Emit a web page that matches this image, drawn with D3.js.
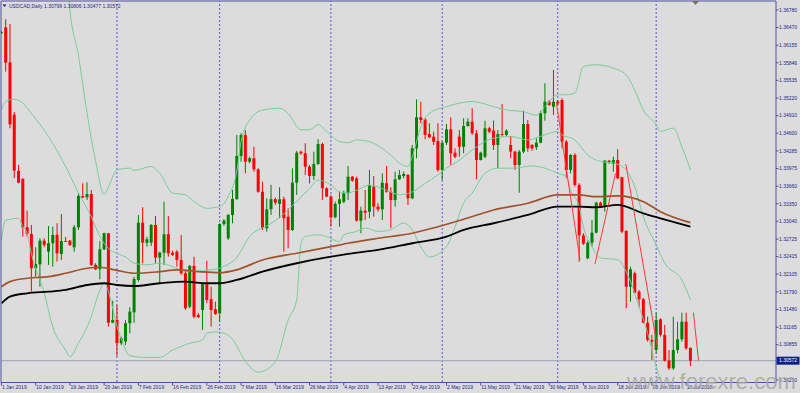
<!DOCTYPE html>
<html>
<head>
<meta charset="utf-8">
<script src="https://cdn.jsdelivr.net/npm/d3@7"></script>
<style>
body { margin: 0; background: #dcdcdc; }
svg { display: block; font-family: "Liberation Sans", Arial, sans-serif; }
</style>
</head>
<body>
<div id="chart"></div>
<script>
// daily bars: open, high, low, close
const ohlc = [
  [1.36373,1.36408,1.36355,1.36391],[1.36474,1.36615,1.35688,1.35847],[1.35854,1.36532,1.34686,1.34757],
  [1.34927,1.34975,1.33806,1.33936],[1.33930,1.34037,1.33713,1.33723],[1.33789,1.33806,1.32767,1.32934],
  [1.32934,1.33228,1.32767,1.32815],[1.32815,1.32975,1.31794,1.32208],[1.32208,1.32580,1.32059,1.32284],
  [1.32279,1.32739,1.31882,1.32697],[1.32697,1.32739,1.32580,1.32621],[1.32502,1.32957,1.32267,1.32651],
  [1.32651,1.32945,1.32236,1.32798],[1.32798,1.33005,1.32325,1.32474],[1.32461,1.33169,1.32355,1.32691],
  [1.32691,1.32762,1.32674,1.32682],[1.32697,1.32709,1.32603,1.32621],[1.32580,1.32975,1.32502,1.32934],
  [1.32934,1.33536,1.32886,1.33488],[1.33488,1.33713,1.33447,1.33458],[1.33465,1.33730,1.33417,1.33523],
  [1.33523,1.33594,1.32249,1.32267],[1.32267,1.32297,1.32178,1.32190],[1.32190,1.32691,1.32013,1.32544],
  [1.32544,1.32838,1.32532,1.32828],[1.32828,1.32833,1.31174,1.31245],[1.31245,1.31635,1.31235,1.31293],
  [1.31293,1.31559,1.30656,1.30881],[1.30881,1.30997,1.30851,1.30969],[1.30909,1.31293,1.30851,1.31235],
  [1.31235,1.31518,1.31058,1.31440],[1.31429,1.32059,1.31245,1.32019],[1.32001,1.33152,1.31971,1.33015],
  [1.33015,1.33288,1.32297,1.32661],[1.32661,1.32767,1.32590,1.32721],[1.32661,1.32992,1.32603,1.32975],
  [1.32975,1.33134,1.32297,1.32396],[1.32396,1.32502,1.31943,1.32484],[1.32484,1.33387,1.32267,1.32810],
  [1.32810,1.33134,1.32413,1.32474],[1.32484,1.32520,1.32426,1.32444],[1.32502,1.32532,1.32236,1.32355],
  [1.32355,1.32798,1.32090,1.32120],[1.32120,1.32178,1.31470,1.31500],[1.31528,1.32267,1.31500,1.32249],
  [1.32249,1.32413,1.31323,1.31351],[1.31382,1.31417,1.31328,1.31341],[1.31470,1.31948,1.31116,1.31925],
  [1.31925,1.32343,1.31589,1.31647],[1.31659,1.31882,1.31174,1.31470],[1.31482,1.31617,1.31382,1.31399],
  [1.31412,1.33005,1.31263,1.32992],[1.32992,1.33081,1.32957,1.33051],[1.32739,1.33169,1.32709,1.33152],
  [1.33152,1.33594,1.33005,1.33435],[1.33435,1.34568,1.33417,1.34196],[1.34196,1.34598,1.34095,1.34568],
  [1.34568,1.34656,1.33890,1.34095],[1.34095,1.34183,1.34067,1.34155],[1.34155,1.34360,1.33918,1.33960],
  [1.33960,1.33978,1.33546,1.33564],[1.33564,1.33741,1.32886,1.32916],[1.32916,1.33447,1.32856,1.33252],
  [1.33252,1.33683,1.33152,1.33430],[1.33430,1.33458,1.33329,1.33369],[1.33349,1.33642,1.33093,1.33430],
  [1.33430,1.33476,1.32502,1.33093],[1.33121,1.33270,1.32562,1.32886],[1.32886,1.33978,1.32869,1.33723],
  [1.33723,1.34284,1.33506,1.34254],[1.34272,1.34290,1.34214,1.34244],[1.34244,1.34421,1.33860,1.34007],
  [1.34007,1.34037,1.33713,1.33842],[1.33842,1.34272,1.33771,1.34054],[1.34054,1.34491,1.34037,1.34408],
  [1.34408,1.34431,1.33417,1.33624],[1.33624,1.33642,1.33465,1.33476],[1.33476,1.33506,1.32945,1.33111],
  [1.33111,1.33387,1.33093,1.33349],[1.33349,1.33564,1.32945,1.33430],[1.33387,1.33582,1.33359,1.33536],
  [1.33536,1.34019,1.33417,1.33829],[1.33829,1.33842,1.33741,1.33759],[1.33801,1.33829,1.33033,1.33051],
  [1.33051,1.33298,1.32828,1.33228],[1.33228,1.33594,1.33063,1.33192],[1.33210,1.33948,1.33093,1.33683],
  [1.33652,1.33842,1.33121,1.33298],[1.33298,1.33359,1.33210,1.33252],[1.33252,1.33890,1.33063,1.33723],
  [1.33713,1.34019,1.33546,1.33564],[1.33564,1.33642,1.32916,1.33417],[1.33417,1.33918,1.33298,1.33783],
  [1.33783,1.33948,1.33771,1.33860],[1.33842,1.33918,1.33801,1.33877],[1.33860,1.33877,1.33329,1.33447],
  [1.33447,1.34391,1.33430,1.34332],[1.34332,1.35199,1.34155,1.34881],[1.34881,1.35157,1.34775,1.34833],
  [1.34845,1.34863,1.34491,1.34568],[1.34585,1.34775,1.34509,1.34527],[1.34537,1.34626,1.34391,1.34449],
  [1.34461,1.34775,1.33918,1.33948],[1.33948,1.34453,1.33771,1.34431],[1.34431,1.34762,1.34391,1.34668],
  [1.34668,1.34881,1.34037,1.34244],[1.34254,1.34332,1.34155,1.34183],[1.34537,1.34656,1.34183,1.34360],
  [1.34360,1.34863,1.34244,1.34727],[1.34727,1.34863,1.34714,1.34803],[1.34803,1.35040,1.34568,1.34598],
  [1.34598,1.34656,1.33783,1.34125],[1.34125,1.34272,1.34116,1.34254],[1.34183,1.34821,1.34155,1.34686],
  [1.34686,1.34714,1.34598,1.34626],[1.34644,1.34821,1.34302,1.34391],[1.34391,1.34656,1.33978,1.34585],
  [1.34585,1.35116,1.34537,1.34568],[1.34568,1.34668,1.34550,1.34644],[1.34391,1.34550,1.34155,1.34272],
  [1.34272,1.34290,1.33948,1.34037],[1.34037,1.34302,1.33546,1.34272],[1.34272,1.34998,1.34244,1.34762],
  [1.34762,1.34833,1.34272,1.34332],[1.34391,1.34408,1.34290,1.34332],[1.34350,1.34509,1.34302,1.34431],
  [1.34431,1.34998,1.34421,1.34952],[1.34952,1.35483,1.34821,1.35157],[1.35157,1.35187,1.35081,1.35099],
  [1.35068,1.35718,1.34922,1.35157],[1.35157,1.35187,1.35099,1.35129],[1.35187,1.35217,1.34332,1.34449],
  [1.34449,1.34479,1.33801,1.33948],[1.33948,1.34231,1.33890,1.34214],[1.34214,1.34244,1.33652,1.33683],
  [1.33683,1.33713,1.32325,1.32789],[1.32789,1.32828,1.32621,1.32644],[1.32385,1.32697,1.32367,1.32661],
  [1.32661,1.33063,1.32590,1.32838],[1.32838,1.33387,1.32828,1.33369],[1.33369,1.33387,1.33288,1.33311],
  [1.33298,1.34125,1.33210,1.34113],[1.34113,1.34125,1.34054,1.34078],[1.34054,1.34183,1.33918,1.34125],
  [1.34125,1.34314,1.33783,1.33801],[1.33819,1.33829,1.32828,1.32856],[1.32868,1.32886,1.31500,1.31882],
  [1.31882,1.32236,1.31617,1.32190],[1.32120,1.32148,1.31766,1.31776],[1.31794,1.31824,1.31528,1.31659],
  [1.31659,1.31683,1.31235,1.31245],[1.31245,1.31351,1.30909,1.30939],[1.30939,1.31028,1.30585,1.30909],
  [1.30762,1.31422,1.30704,1.31293],[1.31305,1.31323,1.30997,1.31028],[1.31028,1.31205,1.30555,1.30573],
  [1.30573,1.30762,1.30408,1.30438],[1.30438,1.31351,1.30408,1.30762],[1.30762,1.31263,1.30704,1.30951],
  [1.30951,1.31422,1.30909,1.31263],[1.31263,1.31422,1.30762,1.30792],[1.30799,1.30806,1.30477,1.30572]
];

const dateLabels = ["1 Jan 2019","10 Jan 2019","19 Jan 2019","29 Jan 2019","7 Feb 2019","16 Feb 2019",
  "26 Feb 2019","7 Mar 2019","16 Mar 2019","26 Mar 2019","4 Apr 2019","13 Apr 2019","23 Apr 2019",
  "2 May 2019","11 May 2019","21 May 2019","30 May 2019","8 Jun 2019","18 Jun 2019","28 Jun 2019","10 Jul 2019"];
const barsPerLabel = 8;

const priceLabels = [1.36780,1.36470,1.36155,1.35846,1.35535,1.35220,1.34910,1.34600,1.34285,1.33975,
  1.33660,1.33350,1.33040,1.32725,1.32415,1.32105,1.31790,1.31480,1.31165,1.30855,1.30230];
const lastPrice = 1.30572;
const monthStarts = [27, 51, 77, 103, 130, 153];

// indicator lines: [bar, price]
const bbUpper = [[15,1.3767],[16,1.3678],[18,1.3598],[20,1.3496],[22,1.3411],[24,1.3352],[25,1.3365],
  [27,1.3395],[30,1.3398],[31,1.3394],[35,1.3401],[37,1.3389],[40,1.3354],[43,1.3351],[45,1.3339],
  [48,1.3327],[51,1.3330],[53,1.3348],[55,1.3393],[56,1.3445],[58,1.3483],[61,1.3501],[65,1.3504],
  [67,1.3495],[70,1.3466],[72,1.3466],[74,1.3475],[76,1.3463],[79,1.3445],[81,1.3443],[83,1.3448],
  [86,1.3445],[89,1.3433],[91,1.3421],[93,1.3407],[95,1.3401],[96,1.3418],[98,1.3471],[100,1.3495],
  [104,1.3507],[107,1.3513],[110,1.3516],[115,1.3507],[118,1.3501],[122,1.3498],[125,1.3492],
  [127,1.3507],[130,1.3528],[132,1.3528],[134,1.3531],[136,1.3578],[139,1.3581],[143,1.3575],
  [146,1.3563],[148,1.3536],[150,1.3501],[153,1.3475],[154,1.3463],[157,1.3469],[159,1.3436],[161,1.3395]];
const bbMiddle = [[0,1.3501],[1,1.3516],[3,1.3520],[5,1.3513],[7,1.3495],[11,1.3454],[15,1.3401],
  [18,1.3354],[21,1.3312],[23,1.3277],[25,1.3256],[27,1.3247],[29,1.3241],[31,1.3230],[34,1.3227],
  [37,1.3230],[42,1.3218],[44,1.3215],[49,1.3218],[52,1.3224],[55,1.3240],[58,1.3277],[63,1.3300],
  [67,1.3324],[70,1.3347],[72,1.3362],[74,1.3377],[77,1.3368],[79,1.3356],[81,1.3354],[83,1.3359],
  [86,1.3368],[90,1.3359],[93,1.3351],[96,1.3356],[99,1.3371],[102,1.3386],[104,1.3398],[107,1.3412],
  [108,1.3418],[110,1.3430],[115,1.3451],[119,1.3454],[123,1.3448],[127,1.3457],[130,1.3463],
  [131,1.3457],[134,1.3448],[137,1.3421],[140,1.3410],[143,1.3407],[146,1.3395],[148,1.3365],
  [150,1.3312],[153,1.3262],[155,1.3230],[159,1.3200],[161,1.3165]];
const bbLower = [[0,1.3271],[1,1.3306],[4,1.3309],[5,1.3295],[6,1.3283],[7,1.3247],[10,1.3177],
  [12,1.3117],[15,1.3076],[16,1.3064],[18,1.3088],[21,1.3135],[23,1.3182],[24,1.3194],[25,1.3180],
  [26,1.3150],[27,1.3118],[28,1.3096],[30,1.3066],[34,1.3063],[37,1.3063],[40,1.3076],[44,1.3088],
  [47,1.3094],[48,1.3106],[50,1.3108],[52,1.3106],[54,1.3095],[57,1.3056],[60,1.3037],[64,1.3055],
  [67,1.3129],[69,1.3165],[70,1.3265],[71,1.3277],[74,1.3280],[76,1.3277],[79,1.3268],[80,1.3280],
  [83,1.3286],[85,1.3292],[88,1.3286],[91,1.3289],[94,1.3301],[96,1.3289],[98,1.3259],[100,1.3241],
  [104,1.3259],[106,1.3294],[108,1.3336],[110,1.3354],[113,1.3389],[116,1.3398],[120,1.3398],
  [124,1.3402],[127,1.3398],[130,1.3389],[132,1.3383],[133,1.3359],[135,1.3330],[136,1.3294],
  [138,1.3259],[140,1.3239],[144,1.3236],[146,1.3215],[149,1.3153],[151,1.3106],[153,1.3047],
  [154,1.3023],[157,1.2990],[161,1.2975]];
const maBrown = [[0,1.31882],[2,1.31971],[6,1.32031],[11,1.32059],[15,1.32120],[20,1.32208],
  [23,1.32226],[27,1.32170],[31,1.32120],[37,1.32148],[41,1.32178],[46,1.32148],[51,1.32130],
  [55,1.32180],[61,1.32355],[69,1.32474],[77,1.32590],[81,1.32651],[88,1.32739],[96,1.32828],
  [102,1.32944],[108,1.33075],[115,1.33240],[123,1.33359],[130,1.33506],[135,1.33506],[139,1.33475],
  [144,1.33488],[150,1.33387],[154,1.33210],[161,1.33015]];
const maBlack = [[0,1.31589],[2,1.31706],[6,1.31765],[11,1.31794],[15,1.31824],[20,1.31912],
  [24,1.31943],[27,1.31912],[31,1.31894],[37,1.31943],[43,1.31971],[47,1.31943],[51,1.31943],
  [55,1.32001],[61,1.32148],[69,1.32297],[77,1.32413],[81,1.32461],[88,1.32532],[96,1.32651],
  [104,1.32767],[108,1.32886],[115,1.33005],[123,1.33152],[130,1.33298],[135,1.33298],[139,1.33288],
  [144,1.33329],[150,1.33181],[154,1.33093],[161,1.32944]];
const trendLines = [
  [[129.7,1.35129],[135.2,1.32355]],
  [[138.7,1.32284],[143.5,1.33890]],
  [[145.9,1.34054],[153.2,1.30851]],
  [[161.7,1.31422],[162.9,1.30573]]
];

const W = 800, H = 393;
const axisX = 776, plotBottom = 382.5;
const upColor = "#008000", downColor = "#ff0000", frameColor = "#4e4ea0", textColor = "#26268a";

const svg = d3.select("#chart").append("svg").attr("width", W).attr("height", H);
const x = d3.scaleLinear().domain([0, 181]).range([1.42, axisX]);
const y = d3.scaleLinear().domain([1.36957, 1.30124]).range([0, 386]);

svg.append("rect").attr("width", W).attr("height", H).attr("fill", "#dcdcdc");
svg.append("clipPath").attr("id", "plot")
  .append("rect").attr("x", 1).attr("y", 1).attr("width", axisX - 1).attr("height", plotBottom - 1);

const plot = svg.append("g").attr("clip-path", "url(#plot)");

plot.selectAll(".sep").data(monthStarts).join("line")
  .attr("class", "sep")
  .attr("x1", d => x(d)).attr("x2", d => x(d))
  .attr("y1", 0).attr("y2", plotBottom)
  .attr("stroke", "#5a5ac8").attr("stroke-width", 1).attr("stroke-dasharray", "2,2");

plot.append("line")
  .attr("x1", 0).attr("x2", axisX)
  .attr("y1", y(lastPrice)).attr("y2", y(lastPrice))
  .attr("stroke", "#9ca4ae").attr("stroke-width", 1);

const bar = plot.selectAll(".bar").data(ohlc).join("g").attr("class", "bar");
bar.append("line")
  .attr("x1", (d, i) => x(i)).attr("x2", (d, i) => x(i))
  .attr("y1", d => y(d[1])).attr("y2", d => y(d[2]))
  .attr("stroke", d => d[3] >= d[0] ? upColor : downColor)
  .attr("stroke-width", 1);
bar.append("rect")
  .attr("x", (d, i) => x(i) - 1.5)
  .attr("width", 3)
  .attr("y", d => Math.min(y(d[0]), y(d[3])))
  .attr("height", d => Math.max(1, Math.abs(y(d[0]) - y(d[3]))))
  .attr("fill", d => d[3] >= d[0] ? upColor : downColor);

const line = d3.line().x(d => x(d[0])).y(d => y(d[1])).curve(d3.curveMonotoneX);
[bbUpper, bbMiddle, bbLower].forEach(band => {
  plot.append("path").attr("d", line(band))
    .attr("fill", "none").attr("stroke", "#7acb9b").attr("stroke-width", 1);
});
plot.append("path").attr("d", line(maBrown))
  .attr("fill", "none").attr("stroke", "#a0522d").attr("stroke-width", 1.7);
plot.append("path").attr("d", line(maBlack))
  .attr("fill", "none").attr("stroke", "#000").attr("stroke-width", 1.8);

plot.selectAll(".trend").data(trendLines).join("path")
  .attr("class", "trend")
  .attr("d", d3.line().x(d => x(d[0])).y(d => y(d[1])))
  .attr("fill", "none").attr("stroke", "#ff3a3a").attr("stroke-width", 1);

// frame and axes
svg.append("path")
  .attr("d", `M1,1H${axisX}V${plotBottom}H1Z`)
  .attr("fill", "none").attr("stroke", frameColor).attr("stroke-width", 1);

const py = svg.append("g").selectAll("g").data(priceLabels).join("g")
  .attr("transform", d => `translate(${axisX},${y(d)})`);
py.append("line").attr("x1", 0).attr("x2", 2.5).attr("stroke", frameColor);
py.append("text").attr("x", 3).attr("dy", "0.35em")
  .attr("font-size", 5).attr("fill", textColor)
  .text(d => d.toFixed(5));

const cur = svg.append("g").attr("transform", `translate(${axisX},${y(lastPrice)})`);
cur.append("rect").attr("x", 0.5).attr("y", -4).attr("width", 23).attr("height", 8).attr("fill", "#0b1f8c");
cur.append("text").attr("x", 3).attr("dy", "0.35em")
  .attr("font-size", 5).attr("fill", "#fff").text(lastPrice.toFixed(5));

const dx = svg.append("g").selectAll("g").data(dateLabels).join("g")
  .attr("transform", (d, i) => `translate(${x(i * barsPerLabel)},${plotBottom})`);
dx.append("line").attr("y1", 0).attr("y2", 3).attr("stroke", frameColor);
dx.append("text").attr("x", 0.5).attr("y", 6)
  .attr("font-size", 5).attr("fill", textColor).text(d => d);

// header
const last = ohlc[ohlc.length - 1];
svg.append("path").attr("d", "M2.5,4.5L6.5,4.5L4.5,7Z").attr("fill", "#1a1a60");
svg.append("text").attr("x", 9).attr("y", 8)
  .attr("font-size", 5).attr("fill", textColor)
  .text("USDCAD,Daily  " + last.map(v => v.toFixed(5)).join(" "));
svg.append("path").attr("d", "M692,1L699,1L695.5,5Z").attr("fill", "#707070");

svg.append("text").attr("x", 627).attr("y", 389)
  .attr("font-size", 22).attr("fill", "#a6a6a6").attr("fill-opacity", 0.85)
  .text("www.forexre.com");
</script>
</body>
</html>
